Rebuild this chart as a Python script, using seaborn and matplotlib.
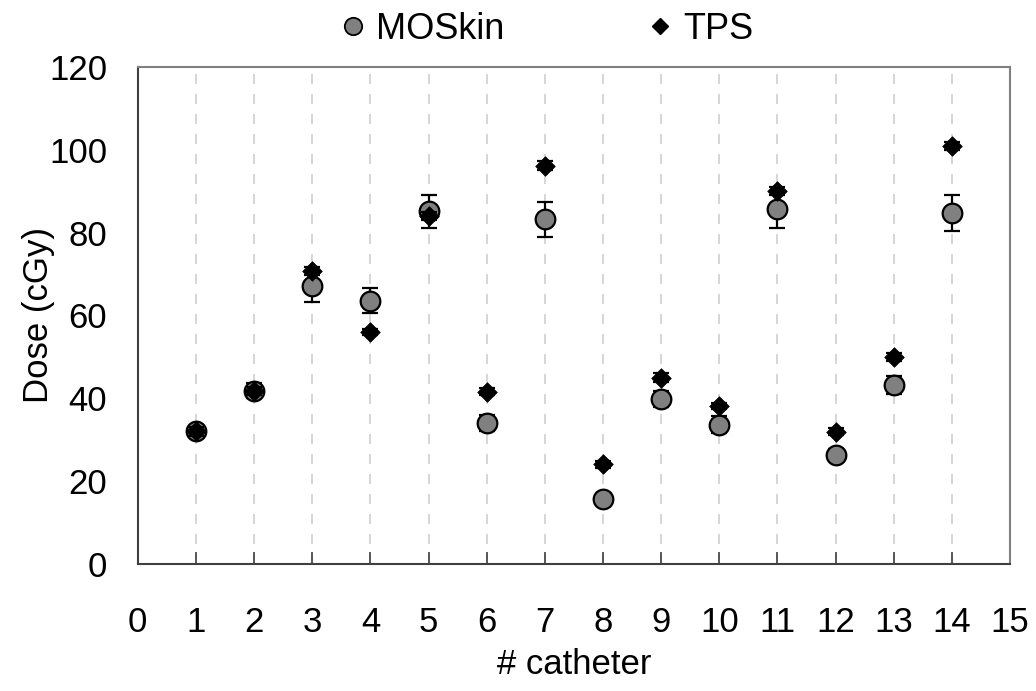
import numpy as np
import pandas as pd
import matplotlib
matplotlib.use("Agg")
import matplotlib.pyplot as plt
from matplotlib.lines import Line2D
import seaborn as sns

catheter = [1, 2, 3, 4, 5, 6, 7, 8, 9, 10, 11, 12, 13, 14]
moskin = [32.1, 41.8, 67.0, 63.6, 85.2, 34.0, 83.2, 15.7, 39.8, 33.6, 85.6, 26.3, 43.2, 84.8]
moskin_err = [1.0, 1.8, 3.7, 3.0, 4.0, 2.0, 4.2, 0.8, 2.0, 2.0, 4.4, 1.5, 2.2, 4.4]
tps = [32.0, 41.7, 70.8, 56.0, 84.0, 41.6, 96.2, 24.0, 45.0, 38.1, 90.0, 31.9, 49.9, 101.0]
tps_err = [1.0, 1.0, 1.0, 0.8, 1.0, 0.8, 1.0, 0.8, 1.0, 0.8, 1.0, 0.8, 1.0, 1.0]

sns.set_theme(style="white")
plt.rcParams['font.family'] = ['Liberation Sans', 'DejaVu Sans']
plt.rcParams['text.color'] = 'black'
plt.rcParams['axes.labelcolor'] = 'black'
plt.rcParams['xtick.color'] = 'black'
plt.rcParams['ytick.color'] = 'black'

df_m = pd.DataFrame({"catheter": catheter, "dose": moskin})
df_t = pd.DataFrame({"catheter": catheter, "dose": tps})

fig = plt.figure(figsize=(10.36, 6.91), dpi=100)
ax = fig.add_axes([0.133, 0.184, 0.842, 0.719])

ax.errorbar(catheter, moskin, yerr=moskin_err, fmt='none', ecolor='black',
            elinewidth=1.6, capsize=6, capthick=1.6, zorder=2)
sns.scatterplot(data=df_m, x="catheter", y="dose", ax=ax, marker='o', s=200,
                color='#808080', edgecolor='black', linewidth=1.6, zorder=3, legend=False)
ax.errorbar(catheter, tps, yerr=tps_err, fmt='none', ecolor='black',
            elinewidth=1.6, capsize=6, capthick=1.6, zorder=4)
sns.scatterplot(data=df_t, x="catheter", y="dose", ax=ax, marker='D', s=100,
                color='black', edgecolor='black', linewidth=0.5, zorder=5, legend=False)

ax.set_xlim(0, 15)
ax.set_ylim(0, 120)
ax.set_xticks(range(0, 16))
ax.set_yticks(range(0, 121, 20))
for xv in range(1, 15):
    ax.axvline(xv, color='#d0d0d0', lw=1.2, ls=(0, (6, 6)), zorder=0)

ax.tick_params(axis='x', bottom=True, direction='in', length=8.5, width=1.2, color='#404040',
               labelsize=25, pad=30, labelcolor='black')
ax.tick_params(axis='y', left=False, length=0, labelsize=25, pad=22, labelcolor='black')
ax.set_xlabel("# catheter", fontsize=25, labelpad=7, color='black')
ax.set_ylabel("Dose (cGy)", fontsize=25, labelpad=-4, color='black')

for s in ['left', 'bottom']:
    ax.spines[s].set_color('#404040')
    ax.spines[s].set_linewidth(1.5)
for s in ['top', 'right']:
    ax.spines[s].set_color('#808080')
    ax.spines[s].set_linewidth(1.5)

handles = [
    Line2D([], [], ls='none', marker='o', markersize=12.5, markerfacecolor='#808080',
           markeredgecolor='black', markeredgewidth=1.3, label='MOSkin'),
    Line2D([], [], ls='none', marker='D', markersize=8.5, markerfacecolor='black',
           markeredgecolor='black', label='TPS'),
]
fig.legend(handles=handles, loc='center', bbox_to_anchor=(0.525, 0.958), ncol=2,
           frameon=False, fontsize=26, handletextpad=0.15, columnspacing=3.8,
           handlelength=1.0)

fig.savefig("out.png", dpi=100)
